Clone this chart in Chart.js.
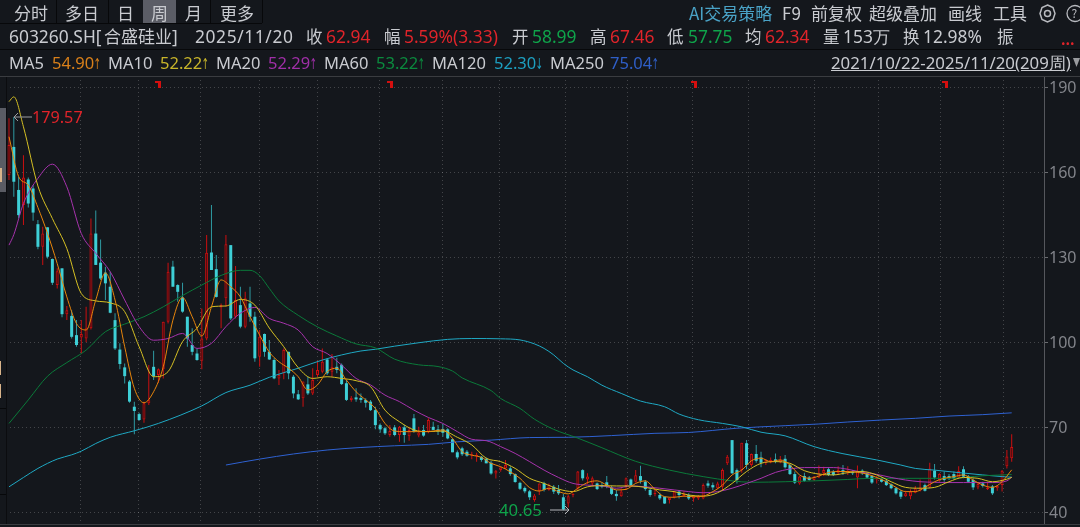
<!DOCTYPE html>
<html lang="zh">
<head>
<meta charset="utf-8">
<title>603260.SH 合盛硅业 周线</title>
<script src="https://cdn.jsdelivr.net/npm/chart.js@4/dist/chart.umd.min.js"></script>
<style>
  html, body { margin: 0; padding: 0; background: #14171c; overflow: hidden; }
  #stage { position: relative; width: 1080px; height: 527px; overflow: hidden; font-family: "Noto Sans CJK SC", "Noto Sans", sans-serif; color: #c9cbd0; }
  #kline { position: absolute; left: 0; top: 0; }
  #stage span { position: absolute; white-space: nowrap; line-height: 20px; height: 20px; }
  .tab span, .tools span { font-size: 17px; top: 3px; }
  .row2 span { font-size: 16.5px; top: 26px; }
  .row2 span.num { font-family: "Noto Sans", sans-serif; font-size: 17.4px; }
  .row3 span { font-family: "Noto Sans", sans-serif; font-size: 16.5px; top: 53px; }
  .row3 b { display: inline-block; font-weight: normal; font-size: 15px; margin-left: -3px; font-family: "DejaVu Sans", sans-serif; transform: scaleX(0.6); }
  .up { color: #e0242a; }
  .down { color: #0fa34a; }
  .box { position: absolute; }
  .flag { position: absolute; top: 81px; width: 6px; height: 7px; border-top: 2px solid #d40f0f; border-right: 3px solid #d40f0f; box-sizing: border-box; }
</style>
</head>
<body>
<div id="stage">
  <canvas id="kline" width="1080" height="527"></canvas>

  <!-- 周期切换栏 -->
  <div class="box" style="left:143px;top:0;width:33px;height:23px;background:#5b5d66"></div>
  <div class="box" style="left:0;top:23px;width:262px;height:1px;background:#07080a"></div>
  <div class="box" style="left:0;top:49px;width:1080px;height:1px;background:#07080a"></div>
  <div class="box" style="left:0;top:76px;width:1080px;height:1px;background:#3a3c40"></div>
  <div class="box" style="left:0;top:524px;width:1080px;height:1px;background:#3a3c40"></div>
  <div class="box" style="left:56px;top:0;width:1px;height:23px;background:#07080a"></div>
  <div class="box" style="left:108px;top:0;width:1px;height:23px;background:#07080a"></div>
  <div class="box" style="left:210px;top:0;width:1px;height:23px;background:#07080a"></div>
  <div class="box" style="left:262px;top:0;width:1px;height:23px;background:#07080a"></div>
  <div class="tab">
    <span style="left:14px">分时</span><span style="left:65px">多日</span><span style="left:117px">日</span>
    <span style="left:151px">周</span><span style="left:185px">月</span><span style="left:220px">更多</span>
  </div>

  <!-- 右上工具栏 -->
  <div class="tools">
    <span style="left:689px;color:#4aa3c7">AI交易策略</span><span style="left:782px">F9</span>
    <span style="left:811px">前复权</span><span style="left:869px">超级叠加</span>
    <span style="left:948px">画线</span><span style="left:993px">工具</span>
  </div>
  <svg class="box" style="left:1038px;top:4px" width="42" height="20" fill="none" stroke="#b9bbc0">
    <polygon points="9.5,1 15,3.5 17,9.5 15,15.5 9.5,18 4,15.5 2,9.5 4,3.5" stroke-width="1.5"/>
    <circle cx="9.5" cy="9.5" r="3" stroke-width="1.5"/>
    <circle cx="37" cy="9.5" r="8" stroke-width="1.3"/>
    <text x="33.5" y="14" font-size="12" fill="#b9bbc0" stroke="none">?</text>
  </svg>

  <!-- 行情信息行 -->
  <div class="row2">
    <span class="num" style="left:9px">603260.SH[</span><span style="left:104px;font-size:17px">合盛硅业</span><span class="num" style="left:172px">]</span>
    <span class="num" style="left:195px;letter-spacing:0.6px">2025/11/20</span>
    <span style="left:306px">收</span><span class="num up" style="left:326px">62.94</span>
    <span style="left:384px">幅</span><span class="num up" style="left:404px">5.59%(3.33)</span>
    <span style="left:512px">开</span><span class="num down" style="left:532px">58.99</span>
    <span style="left:590px">高</span><span class="num up" style="left:610px">67.46</span>
    <span style="left:667px">低</span><span class="num down" style="left:688px">57.75</span>
    <span style="left:745px">均</span><span class="num up" style="left:765px">62.34</span>
    <span style="left:823px">量</span><span class="num" style="left:843px">153万</span>
    <span style="left:903px">换</span><span class="num" style="left:923px">12.98%</span>
    <span style="left:997px">振</span><span class="up" style="left:1061px;top:29px;font-size:14px;font-weight:bold">...</span>
  </div>

  <!-- 均线图例 -->
  <div class="row3">
    <span style="left:9px">MA5</span><span style="left:52px;color:#d9801a">54.90<b>↑</b></span>
    <span style="left:108px">MA10</span><span style="left:160px;color:#c8b52a">52.22<b>↑</b></span>
    <span style="left:216px">MA20</span><span style="left:268px;color:#a02fa8">52.29<b>↑</b></span>
    <span style="left:324px">MA60</span><span style="left:376px;color:#0b8a3e">53.22<b>↑</b></span>
    <span style="left:432px">MA120</span><span style="left:494px;color:#1d9fc0">52.30<b>↓</b></span>
    <span style="left:550px">MA250</span><span style="left:610px;color:#2f5fc8">75.04<b>↑</b></span>
    <span style="left:831px;font-size:16.8px;text-decoration:underline">2021/10/22-2025/11/20(209周)</span>
  </div>
  <svg class="box" style="left:1073px;top:58px" width="7" height="10"><polygon points="0,0 7,0 3.5,9" fill="#9a9ca0"/></svg>

  <!-- 顶部除权标记 -->
  <div class="flag" style="left:155px"></div><div class="flag" style="left:387px"></div>
  <div class="flag" style="left:691px"></div><div class="flag" style="left:942px"></div>

  <!-- 最高价与最低价标注 -->
  <span class="up" style="left:32px;top:107px;font-size:16.2px;font-family:'Noto Sans'">179.57</span>
  <span class="down" style="left:499px;top:500px;font-size:16.8px;font-family:'Noto Sans'">40.65</span>
  <svg class="box" style="left:12px;top:112px" width="20" height="10" fill="none" stroke="#9a9ca0"><path d="M20 5H2M6 1 2 5 6 9"/></svg>
  <svg class="box" style="left:550px;top:505px" width="21" height="10" fill="none" stroke="#b5b7bb"><path d="M0 5H19M15 1 19 5 15 9"/></svg>

  <!-- 左侧被裁切的侧栏 -->
  <div class="box" style="left:0;top:108px;width:6px;height:84px;background:#5a5c64"></div>
  <div class="box" style="left:0;top:168px;width:2px;height:14px;background:#d9b48a"></div>
  <div class="box" style="left:0;top:361px;width:1px;height:14px;background:#d9b48a"></div>
  <div class="box" style="left:0;top:384px;width:1px;height:14px;background:#d9b48a"></div>
  <div class="box" style="left:0;top:408px;width:6px;height:1px;background:#07080a"></div>
  <div class="box" style="left:0;top:494px;width:6px;height:1px;background:#07080a"></div>
  <div class="box" style="left:6px;top:77px;width:1px;height:447px;background:#0b0c0f"></div>
</div>

<script>
// 周K线数据，按周序号 0..208 排列，数值读自原图
const weekOpen = [
    159.1,169,153.8,148.5,157.5,154.3,141.7,133.7,140.6,129.4,
    120.2,126.1,109.9,109.3,102.5,101.7,101.3,104.9,138.4,128.1,
    124.6,119.6,107.8,97.4,91.1,86.1,77.2,74.6,72.7,78.4,
    91.3,88.4,90.4,107.2,126.7,120.2,115.8,109,99,96,
    93.4,101.3,131.7,125.8,112.3,115.5,134.3,109,113.1,105.5,
    113.7,109,94.9,102.9,96.6,93.7,87.2,89,96.6,87.8,
    81.6,80.2,85.1,81.9,88.4,89.6,93.9,89.6,91.3,92,
    85.5,79.6,80.5,80.3,79.6,79,76,70.7,69.6,67.2,
    69.9,67.2,69.9,66.8,73.1,67,69,68.4,70.1,69.2,
    69.3,69.2,65.7,61.1,62.5,61.3,60,59.8,59.5,58.8,
    57.4,53.6,54.8,55.4,55.4,53.4,50.3,48.5,47.3,44.2,
    47.5,50.1,47.8,48.9,47.8,45.2,43,46,48.4,54.8,
    51.5,50.1,50.1,49.5,50.5,48.7,46.4,45.6,49.2,51.5,
    50.7,52.7,50.7,47.8,46.4,46,45.4,44.2,45.2,47.2,
    45.6,46,44.8,44.8,44.8,50.1,49.5,48.4,48.9,57.2,
    65.4,54.8,54.8,64.3,56.6,60.5,59.3,57.2,57.5,58.6,
    57.5,58.8,56.6,53.4,50.1,52.7,52.2,51.3,52.2,53.7,
    55.1,54.2,53.9,54.8,54,54.2,52.2,54.6,53.7,52.7,
    51.5,51.5,51,49.8,48.4,47.2,45.6,45.6,46.8,47.5,
    49.5,48.7,54.6,51.3,52.7,52.7,53.4,52.2,55.1,52.7,
    51.3,48.7,50.1,48,49,48.4,49.5,56.2,58.99
];
const weekClose = [
    169.7,156.7,144.9,158.2,149,145.8,133.7,138.4,130.2,121,
    125.1,109.9,111.3,101.9,99,102.9,104.9,138.4,127.3,122.5,
    120.8,110.4,97.8,92.3,88,79,75.7,72.5,78.4,79.5,
    88,90.4,107.2,124.9,119.6,117.8,110.8,101.3,96.6,93.7,
    101.3,131.6,125.5,116,113.1,134.6,108.4,114.9,105.5,115.5,
    109,94.3,101.9,96.6,93.9,87.2,88.4,97.2,89,81.9,
    79.8,86.1,81.9,86.6,90.2,93.1,89,91.3,90.2,85.2,
    79.6,80.4,79.8,79.6,78.6,76,70.7,69.2,67.8,68.6,
    67.2,70.1,67.2,69,68.4,68.1,67,72.5,69,68.6,
    68,66,61.1,59.3,60.4,59.9,60.4,60.2,58.4,57.2,
    53.6,54.6,55.8,56.6,53.4,50.6,48.2,47.3,45.2,45.8,
    50.1,47.8,49.5,47.2,46.6,40.9,45.6,46.4,54.3,51.9,
    52.5,51.9,48.1,48.9,48.9,46.4,45.6,47.2,51.9,49.5,
    53,51.1,48.1,46,46.6,44.8,43,45,47.2,46,
    46.4,44.8,45.4,45.6,49.5,49.3,48.7,50.1,54.8,59.5,
    53.7,51.3,64.5,56.6,60.5,58.1,57.4,58.4,58.4,57.8,
    58.4,55.8,53.4,50.4,52.5,51,51.3,52.5,53.7,54.8,
    53.1,53.1,54.8,54,54.6,53.7,54.6,53.7,52.2,50.4,
    52.1,50.7,49.5,48.4,46.6,45.4,46.6,47.2,48.4,48.7,
    47.5,55.4,52.2,53.4,51.3,51.9,51.9,54.5,52.5,50.7,
    48.7,49.9,49.2,48.7,46.6,49.2,54.6,59.61,62.94
];
const weekHigh = [
    179.1,179.57,158.5,166.1,158.2,155.5,143.2,140.8,140.6,129.6,
    126.1,126.1,112.8,111.3,107.8,107.8,112.5,143.7,146.5,136.3,
    126.7,124.9,110.2,99.6,92.5,86.6,79,75.1,79,91.9,
    97,90.7,107.2,128.1,128.8,120.5,121,109,104.9,97.8,
    111.9,137.9,148.5,130.8,113.7,137.9,134.3,126.9,119.6,117.8,
    119.6,110.8,104.3,103.1,100.8,94.3,90.2,97.8,96.6,88.4,
    83.1,86.1,87.8,90.8,93.5,97.8,94.3,95.8,94.5,92.5,
    86.6,81,83.7,81.9,80.2,79.6,77.2,71.3,70.1,70.7,
    70.7,70.4,70.7,70.1,74.6,70.1,70.7,73.1,71.9,70.7,
    71.1,69.6,66,61.7,63.1,61.9,61.3,60.9,59.8,59.3,
    58,54.8,56.2,58.4,56.2,53.6,50.7,49,47.8,46.4,
    50.1,50.7,50.1,49.5,49.5,46.4,46,46.6,54.5,55.1,
    53.7,52.5,50.4,50.4,52.7,49.3,47.8,48.4,52.2,51.8,
    54.8,56.3,51.3,48.4,48.1,46.8,45.4,45.2,47.5,47.8,
    47.2,46.6,45.6,46,50.1,51.1,50.4,50.7,55.4,60.1,
    65.4,55.4,64.5,65.4,60.7,63.7,61.3,58.6,59.3,60.7,
    59.8,60.1,57,54.3,52.7,53.9,52.7,52.7,56.4,56,
    55.8,54.8,56.2,56.6,56.2,54.8,56.4,55.1,54,53.1,
    52.7,52.2,51.5,50.1,48.7,47.8,47.5,48,49.2,51.5,
    50.1,57.4,57,53.7,54.3,53.4,54.3,56.2,56.2,53.1,
    51.9,50.4,50.7,50.7,49.5,49.5,54.8,61.9,67.46
];
const weekLow = [
    157.3,151.4,143.8,141.4,147.6,142.9,132.8,127.3,129.6,120.2,
    119,108.8,107.8,101.3,98.4,96,100,104.5,127.3,122,
    114.9,110.2,97.2,90.4,85.4,78.6,67.5,72.2,71.5,77.8,
    86.6,85.7,87.2,106.6,119.6,114.3,110.4,98.4,95.4,93.4,
    90.4,100.7,125.5,115.8,104.9,112.5,107.8,108.4,104.9,104.9,
    107.2,93.1,91.3,94.9,93.7,86.9,84.9,86.9,86.9,80.2,
    79.6,77.2,81.3,81.3,87.8,89,88.4,87.8,89,84.9,
    79.2,79,79,78.6,76.9,75.7,69.2,68,67.2,66.6,
    66.8,64.8,64.5,65.2,68,66.4,66.6,67.8,69,67.2,
    66.6,65.7,61.1,58.6,59.8,59.5,58.6,57.8,57.8,57.2,
    53.2,51.8,54.2,55.2,52.8,50.3,47.8,46.6,44.2,43.6,
    46,47.2,47.5,46.4,46,40.65,41.6,45.2,47.8,51.1,
    49.9,49.2,47.8,48.4,48.4,46,44,45.4,47.8,49.2,
    50.4,50.1,47.5,45.4,45.6,44.2,42.8,43,44.8,44.8,
    45.4,44.2,43.6,44.2,44.5,48.6,47.8,48,47.8,56.6,
    53.4,50.1,53.9,55.1,56,57.4,55.8,56.6,57.2,57.2,
    57.2,55.4,53.1,49.9,49.6,50.7,51,51,52,52.7,
    52.7,52.7,53.1,53.1,53.1,53.1,48.4,53.1,51.9,49.9,
    50.1,50.4,49.2,48,46.2,44.6,45.4,44.5,46.6,47.2,
    47.2,48.4,51.5,50.7,50.7,51.3,51.5,51.9,51.9,50.4,
    47.8,48,48.7,47.8,46,47.5,47.2,55.4,57.75
];

// 均线只取样部分周，各周序号见 xxWeeks
const ma5Weeks = [
    0,2,4,6,8,10,12,14,16,18,
    20,22,24,26,28,30,32,34,36,38,
    40,42,44,46,48,50,52,54,56,58,
    60,62,64,66,68,70,72,74,76,78,
    80,82,84,86,88,90,92,94,96,98,
    100,102,104,106,108,110,112,114,116,118,
    120,122,124,126,128,130,132,134,136,138,
    140,142,144,146,148,150,152,154,156,158,
    160,162,164,166,168,170,172,174,176,178,
    180,182,184,186,188,190,192,194,196,198,
    200,202,204,206,208
];
const ma5Values = [
    172.6,158.5,155.5,147.6,138.4,127.8,116,106.6,104.3,114.9,
    124.5,114.9,98.4,83.7,78.6,82.5,91.3,107.8,115.8,109,
    102.2,112.5,122,119.6,116,109,102.5,96.5,93.1,90.8,
    87.8,83.1,84.9,89.6,90.8,86.6,82.5,79.6,76.6,71.3,
    68.6,68.4,68.4,68.4,68.6,69,66,61.3,60.1,59.3,
    57.2,56,54.2,51.9,48.6,47.4,48.4,47.2,46.4,48.4,
    50.4,51,49.5,47.8,48,50.1,51,48,45.4,45.2,
    45.6,45.4,45.6,47.2,49.5,53.1,54.8,58.1,59,57.8,
    58.4,56.6,53.1,51.9,52.7,54,54.3,54.3,54,53.4,
    52.2,50.7,48.7,47.2,47.2,48.7,50.7,51.9,52.5,53.1,
    51.3,49.5,48.7,50.7,54.9
];
const midWeeks = [
    0,1,3,6,9,12,15,18,21,24,
    27,30,33,36,39,42,45,48,51,54,
    57,60,63,66,69,72,75,78,81,84,
    87,90,93,96,99,102,105,108,111,114,
    117,120,123,126,129,132,135,138,141,144,
    147,150,153,156,159,162,165,168,171,174,
    177,180,183,186,189,192,195,198,201,204,
    207,208
];
const ma10Values = [
    185,186.7,176.1,155.2,143.7,133.1,117.2,114.6,113.9,110.8,
    98.4,87.8,89.6,100.2,104.9,112.5,112.8,115.1,113.1,105,
    98.4,91,87.2,87.8,87.2,86.4,84.3,76,71.9,69,
    68.4,68.6,66.4,63.7,59,57.8,55.4,51.9,50.1,48.1,
    47.2,48.9,49.3,49.2,49.2,48.7,47.8,47.2,46,45.6,
    46.8,50.1,54.3,57.2,57.8,57.2,54.6,53.4,53.1,53.9,
    54.3,53.1,50.7,48.7,48.4,48.7,50.7,52.2,51.9,50.7,
    51.6,52.22
];
const ma20Values = [
    134.3,138,149,157.9,162.9,154.9,138.4,131.4,124.9,114.9,
    105.5,100.7,101.3,103.1,97.8,99.6,105.5,110.2,112.3,108.4,
    106.7,104.3,98.4,96,91.9,87.2,84.9,81.3,79,76,
    73.4,71.3,68.4,65.7,65.2,63.1,60.7,57.8,54.8,52.2,
    50.1,49.5,49.2,48.4,49.2,48.9,48.4,47.8,47.2,46.8,
    47.2,48.4,50.1,51.9,54,55.2,55.7,55.7,55.7,55.1,
    54,53.3,52.2,51.3,50.7,50.5,50.4,50.4,50.4,50.4,
    51,52.29
];
const ma60Weeks = [
    0,4,8,12,16,20,24,28,32,36,
    40,44,48,50,52,54,56,60,64,68,
    72,76,80,85,89,92,94,100,102,106,
    109,113,118,123,130,137,144,150,154,161,
    167,174,179,186,195,202,208
];
const ma60Values = [
    71.3,79.6,88,92.8,97.2,103.7,106.4,109,112.5,116.5,
    120.2,123.6,125.4,125.4,123.5,119,114.6,109.5,105.4,102.2,
    99.4,98,94,92,91.4,89.8,87.4,82.9,80.1,76.6,
    72.8,69.2,66.1,62.7,57.9,54.8,52.5,51,50.5,50.7,
    51,51.5,51.9,51.9,51.9,52.8,53.22
];
const ma120Weeks = [
    0,3,6,10,13,15,18,21,26,31,
    40,45,50,54,60,65,69,73,76,80,
    85,91,96,102,106,109,111,113,115,117,
    120,123,127,131,136,139,143,148,152,156,
    161,167,173,180,185,188,192,196,202,206,
    208
];
const ma120Values = [
    48.9,52.2,55.4,58.7,60.2,61.5,64.2,66.4,68.7,71.3,
    77.5,82.2,84.8,87.6,90.8,93.7,95.5,96.9,97.5,98.6,
    99.8,101,101.3,101.2,100.8,99.4,97.8,95.5,92.5,90.2,
    87.8,84.8,81.9,79.2,77.2,74.6,72.6,71.3,70.1,68.2,
    66.9,63.1,60.6,58.4,56.6,55.4,54.8,54.1,53.1,52.5,
    52.3
];
const ma250Weeks = [45,52,59,66,73,80,87,93,100,108,116,125,134,141,151,161,168,174,181,188,195,202,208];
const ma250Values = [56.6,58.7,60.5,61.9,62.8,63.4,63.9,64.8,65.4,66.3,66.4,67,67.8,68.1,69.6,70.5,71.1,71.8,72.5,73.1,73.9,74.4,75.04];

const priceTicks = [40, 70, 100, 130, 160, 190];
// 季度分隔线所在的周
const quarterWeeks = [14.9, 26.8, 39.8, 52, 63.9, 76.9, 90, 101.7, 115.4, 128.2, 141.7, 153.3, 167, 180.3, 193.2, 206.4];

const UP_COLOR = '#cc0f10';
const UP_FILL = '#4a0d10';
const DOWN_COLOR = '#3ecfd6';
const DOWN_WICK = '#2f9aa2';
const GRID_COLOR = 'rgba(255,255,255,0.2)';

function isUp(index) {
    return weekClose[index] >= weekOpen[index];
}

function sampled(weeks, values) {
    return weeks.map((week, i) => ({ x: week, y: values[i] }));
}

function maLine(label, weeks, values, color, order) {
    return {
        type: 'line',
        label,
        data: sampled(weeks, values),
        borderColor: color,
        borderWidth: 1,
        pointRadius: 0,
        cubicInterpolationMode: 'monotone',
        order
    };
}

const wickData = weekHigh.map((high, i) => ({ x: i, y: [weekLow[i], high] }));
const bodyData = weekOpen.map((open, i) => ({ x: i, y: [open, weekClose[i]] }));

new Chart(document.getElementById('kline'), {
    data: {
        datasets: [
            maLine('MA5', ma5Weeks, ma5Values, '#e8860c', 1),
            maLine('MA10', midWeeks, ma10Values, '#d6c024', 2),
            maLine('MA20', midWeeks, ma20Values, '#a733ad', 3),
            maLine('MA60', ma60Weeks, ma60Values, '#0b7a3a', 4),
            maLine('MA120', ma120Weeks, ma120Values, '#1fa9c4', 5),
            maLine('MA250', ma250Weeks, ma250Values, '#2f62d2', 6),
            {
                type: 'bar',
                label: 'body',
                data: bodyData,
                grouped: false,
                barThickness: 3,
                minBarLength: 1,
                inflateAmount: 0,
                borderWidth: (ctx) => (isUp(ctx.dataIndex) ? 1 : 0),
                borderSkipped: false,
                borderColor: UP_COLOR,
                backgroundColor: (ctx) => (isUp(ctx.dataIndex) ? UP_FILL : DOWN_COLOR),
                order: 7
            },
            {
                type: 'bar',
                label: 'wick',
                data: wickData,
                grouped: false,
                barThickness: 1,
                inflateAmount: 0,
                borderWidth: 0,
                backgroundColor: (ctx) => (isUp(ctx.dataIndex) ? UP_COLOR : DOWN_WICK),
                order: 8
            }
        ]
    },
    options: {
        responsive: false,
        animation: false,
        devicePixelRatio: 1,
        layout: { padding: { left: 6, top: 76, right: 0, bottom: 3 } },
        plugins: { legend: { display: false }, tooltip: { enabled: false } },
        scales: {
            x: {
                type: 'linear',
                offset: false,
                min: -0.62,
                max: 214.7,
                afterFit: (scale) => { scale.height = 0; scale.paddingLeft = 0; scale.paddingRight = 0; },
                afterBuildTicks: (scale) => { scale.ticks = quarterWeeks.map((value) => ({ value })); },
                ticks: { display: false },
                border: { display: false, dash: [1, 3] },
                grid: { offset: false, color: GRID_COLOR, drawTicks: false }
            },
            y: {
                position: 'right',
                min: 35.76,
                max: 194.06,
                afterFit: (scale) => { scale.width = 36; scale.paddingTop = 0; scale.paddingBottom = 0; },
                afterBuildTicks: (scale) => { scale.ticks = priceTicks.map((value) => ({ value })); },
                ticks: { color: '#82848a', padding: 1, labelOffset: 1, font: { family: 'Noto Sans', size: 16 } },
                border: { display: true, color: '#55575c', dash: [1, 3] },
                grid: { color: GRID_COLOR, tickLength: 4, tickColor: '#6a6c70' }
            }
        }
    }
});
</script>
</body>
</html>
